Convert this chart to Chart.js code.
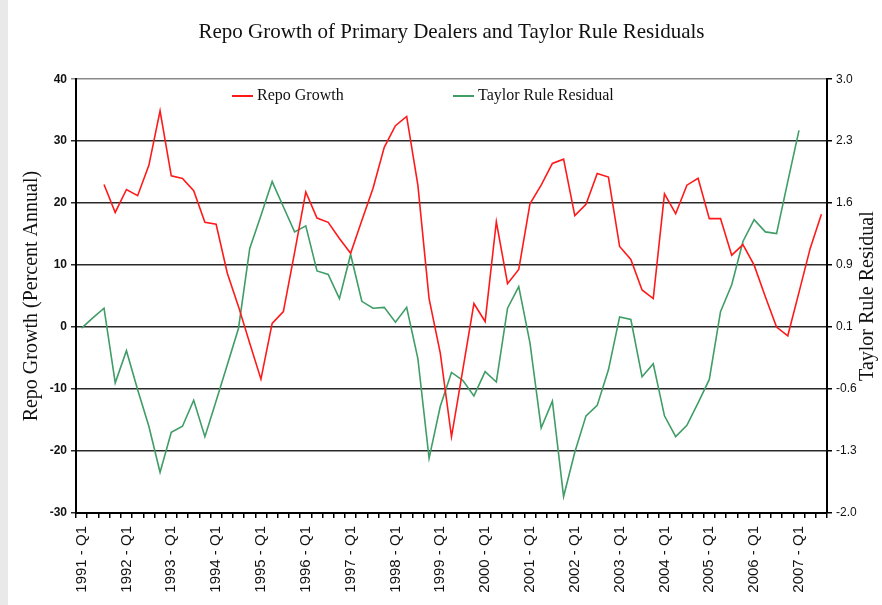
<!DOCTYPE html>
<html>
<head>
<meta charset="utf-8">
<script src="https://cdn.jsdelivr.net/npm/chart.js@4.4.1/dist/chart.umd.min.js"></script>
<style>
  html, body { margin: 0; padding: 0; background: #e9e9e9; }
  .wrap { position: absolute; left: 8px; top: 0; width: 874px; height: 605px; background: #fff; }
</style>
</head>
<body>
<div class="wrap"><canvas id="repoChart" width="874" height="605"></canvas></div>
<script>
// quarters 1991 Q1 .. 2007 Q3
const years = [1991, 1992, 1993, 1994, 1995, 1996, 1997, 1998, 1999, 2000, 2001, 2002, 2003, 2004, 2005, 2006, 2007]
const quarters = ['Q1', 'Q2', 'Q3', 'Q4']
let quarterLabels = []
for (const y of years) {
    for (const q of quarters) {
        if (y == 2007 && q == 'Q4') break
        quarterLabels.push(`${y} - ${q}`)
    }
}

// percent annual, left axis
const repoGrowth = [
    null, null, 23.0, 18.5, 22.2, 21.2, 26.1, 34.9,
    24.4, 24.0, 22.0, 16.9, 16.6, 8.7, 3.3, -2.6,
    -8.4, 0.6, 2.5, 12.0, 21.8, 17.6, 16.9, 14.3,
    11.9, 17.2, 22.4, 29.0, 32.5, 34.0, 22.9, 4.6,
    -4.2, -17.7, -7.0, 3.8, 0.9, 17.0, 7.0, 9.3,
    19.9, 22.9, 26.4, 27.1, 18.0, 19.8, 24.8, 24.2,
    13.0, 10.9, 6.0, 4.6, 21.5, 18.3, 22.9, 24.0,
    17.5, 17.5, 11.6, 13.3, 10.0, 4.9, 0.0, -1.4,
    5.6, 12.7, 18.2
]

// right axis
const taylorResidual = [
    0.13, 0.25, 0.36, -0.50, -0.13, -0.58, -1.00, -1.53,
    -1.07, -1.00, -0.70, -1.12, -0.71, -0.29, 0.13, 1.05,
    1.43, 1.82, 1.53, 1.24, 1.31, 0.79, 0.75, 0.47,
    0.98, 0.44, 0.36, 0.37, 0.20, 0.37, -0.22, -1.37,
    -0.77, -0.38, -0.47, -0.65, -0.37, -0.49, 0.36, 0.61,
    -0.04, -1.02, -0.71, -1.81, -1.30, -0.88, -0.76, -0.35,
    0.26, 0.23, -0.43, -0.28, -0.88, -1.12, -0.99, -0.73,
    -0.46, 0.32, 0.63, 1.13, 1.38, 1.24, 1.22, 1.82,
    2.41, null, null
]

const rightTicks = [-2.0, -1.2857, -0.5714, 0.1429, 0.8571, 1.5714, 2.2857, 3.0]

const serif = '"Liberation Serif", "Times New Roman", serif'
const sans = '"Liberation Sans", Arial, sans-serif'

// legend sits inside the plot, and the right title reads upward like the left one
const extraText = {
    id: 'extraText',
    afterDraw(chart) {
        const ctx = chart.ctx
        const legendX = [224, 445]
        const legendY = 96
        ctx.save()
        ctx.font = `16px ${serif}`
        ctx.textBaseline = 'middle'
        ctx.textAlign = 'left'
        chart.data.datasets.forEach((ds, i) => {
            const x = legendX[i]
            ctx.strokeStyle = ds.borderColor
            ctx.lineWidth = 2
            ctx.beginPath()
            ctx.moveTo(x, legendY)
            ctx.lineTo(x + 21, legendY)
            ctx.stroke()
            ctx.fillStyle = '#111'
            ctx.fillText(ds.label, x + 25, legendY)
        })
        const area = chart.chartArea
        ctx.translate(chart.width - 14, (area.top + area.bottom) / 2)
        ctx.rotate(-Math.PI / 2)
        ctx.font = `20px ${serif}`
        ctx.textAlign = 'center'
        ctx.fillStyle = '#111'
        ctx.fillText('Taylor Rule Residual', 0, 0)
        ctx.restore()
    }
}

new Chart('repoChart', {
    type: 'line',
    data: {
        labels: quarterLabels,
        datasets: [{
            label: 'Repo Growth',
            data: repoGrowth,
            yAxisID: 'y',
            borderColor: '#ff1a1a',
            backgroundColor: '#ff1a1a',
            borderWidth: 1.6,
            pointRadius: 0,
            tension: 0
        }, {
            label: 'Taylor Rule Residual',
            data: taylorResidual,
            yAxisID: 'y1',
            borderColor: '#3f9d66',
            backgroundColor: '#3f9d66',
            borderWidth: 1.6,
            pointRadius: 0,
            tension: 0
        }]
    },
    options: {
        responsive: false,
        animation: false,
        layout: { padding: 0 },
        plugins: {
            legend: { display: false },
            tooltip: { enabled: false },
            title: {
                display: true,
                fullSize: false,
                text: 'Repo Growth of Primary Dealers and Taylor Rule Residuals',
                color: '#111',
                font: { family: serif, size: 21, weight: 'normal' },
                padding: { top: 20, bottom: 34 }
            }
        },
        scales: {
            x: {
                type: 'category',
                offset: true,
                grid: { offset: true, drawOnChartArea: false, tickLength: 5, color: '#000', lineWidth: 1.5 },
                border: { color: '#000', width: 2 },
                ticks: {
                    autoSkip: false,
                    maxRotation: 90,
                    minRotation: 90,
                    padding: 8,
                    color: '#111',
                    font: { family: sans, size: 15 },
                    callback: (v, i) => i % 4 == 0 ? quarterLabels[i] : ''
                },
                afterFit: scale => { scale.height = 92 }
            },
            y: {
                position: 'left',
                min: -30,
                max: 40,
                ticks: { stepSize: 10, padding: 4, color: '#111', font: { family: sans, size: 12, weight: 'bold' } },
                grid: {
                    tickLength: 5,
                    lineWidth: 1.5,
                    color: ctx => ctx.tick && ctx.tick.value == 40 ? '#8a8a8a' : '#2a2a2a'
                },
                border: { color: '#000', width: 2 },
                title: {
                    display: true,
                    text: 'Repo Growth (Percent Annual)',
                    color: '#111',
                    font: { family: serif, size: 20 },
                    padding: { top: 12, bottom: 0 }
                },
                afterFit: scale => { scale.width = 68 }
            },
            y1: {
                position: 'right',
                min: -2,
                max: 3,
                afterBuildTicks: scale => { scale.ticks = rightTicks.map(v => ({ value: v })) },
                ticks: { padding: 4, color: '#111', font: { family: sans, size: 12 }, callback: v => v.toFixed(1) },
                grid: { drawOnChartArea: false, tickLength: 5, color: '#000', lineWidth: 1.5 },
                border: { color: '#000', width: 2 },
                afterFit: scale => { scale.width = 55 }
            }
        }
    },
    plugins: [extraText]
})
</script>
</body>
</html>
